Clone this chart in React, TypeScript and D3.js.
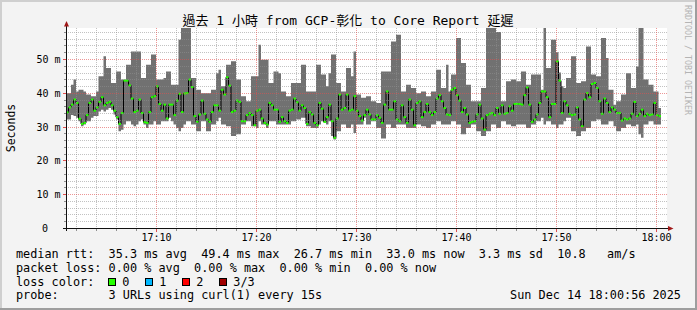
import React from 'react';
import * as d3 from 'd3';

// time: seconds after 17:00:00
const START_SEC = 60;
const STEP_SEC = 15;

const medianMs = [
  34.2,35.7,36.5,38.0,37.0,32.3,30.8,31.1,33.4,37.0,38.0,34.7,35.7,37.3,38.7,36.3,37.0,37.3,36.3,34.7,
  32.8,30.8,34.0,43.6,43.6,42.2,38.3,34.3,34.7,38.0,34.0,31.3,31.1,34.3,38.7,39.0,41.9,36.7,34.7,36.5,
  32.4,36.5,36.5,33.4,37.7,39.7,34.3,39.8,
  39.9,43.9,41.7,33.1,31.4,33.6,37.7,33.8,32.1,31.4,34.3,36.3,36.3,34.7,40.9,39.5,44.6,42.1,34.3,34.7,
  37.7,37.3,31.6,31.6,33.4,34.0,33.4,30.4,34.7,35.0,32.4,31.1,30.6,37.0,36.3,35.0,35.0,31.4,32.8,31.6,
  31.1,34.7,35.0,38.3,37.2,34.7,36.3,35.5,
  30.8,34.3,33.6,31.1,30.4,37.0,35.3,31.4,32.8,36.5,31.6,26.7,32.4,39.5,35.0,35.5,39.5,34.7,35.0,39.0,
  34.7,33.1,31.8,33.4,35.0,33.6,32.1,32.1,33.4,32.6,31.1,36.5,40.4,35.0,35.0,37.5,32.1,31.6,36.3,32.8,
  31.1,38.0,35.0,30.4,37.0,37.5,32.8,34.3,
  36.7,34.3,33.4,34.3,38.3,39.3,37.5,35.5,33.6,33.4,40.9,41.4,39.3,37.7,34.3,35.5,33.6,31.1,31.4,31.6,
  33.6,36.5,32.4,29.1,33.4,33.8,34.0,33.4,35.5,33.8,36.3,33.8,34.0,36.0,34.7,36.7,36.7,36.7,36.5,39.3,
  41.6,36.5,31.4,32.1,33.6,37.0,40.4,40.4,
  38.7,32.8,36.7,36.7,49.3,43.6,34.0,37.5,36.3,33.8,33.4,33.6,35.7,32.1,30.1,38.0,39.9,38.7,42.6,42.9,
  41.4,37.5,33.8,38.3,37.0,34.3,35.7,35.0,34.0,34.0,31.8,32.4,32.1,32.4,33.8,37.3,33.1,33.8,35.0,33.1,
  33.8,33.4,33.6,37.0,33.4,33.1,
];

const smokeMaxMs = [
  39.9,39.9,42.4,43.9,40.4,40.9,40.9,40.4,39.5,39.5,39.0,39.0,40.4,44.9,44.9,50.8,47.3,47.3,42.9,42.9,
  46.3,46.3,43.9,43.9,48.3,48.3,52.2,52.2,52.2,52.2,44.4,44.4,48.3,48.3,51.3,51.3,43.9,43.9,43.9,44.4,
  46.3,46.3,42.4,42.4,42.4,55.7,65,65,
  65,65,44.4,44.4,40.9,40.9,39.9,39.9,39.9,39.9,40.9,40.9,45.8,46.8,41.9,41.9,48.3,48.3,49.3,49.3,
  43.9,43.9,39.0,39.0,37.5,37.5,44.9,44.9,44.9,54.2,49.8,49.8,49.8,42.9,42.9,46.3,46.3,45.8,40.4,40.4,
  39.0,39.0,42.9,42.9,42.9,42.9,48.3,48.3,
  40.4,40.4,40.4,40.4,48.3,48.3,45.4,45.4,41.9,45.8,51.3,51.3,42.9,42.9,40.4,40.4,47.3,47.3,44.9,52.2,
  39.5,39.5,38.5,38.5,39.0,39.0,37.5,37.5,37.0,37.0,46.3,46.3,46.3,46.3,55.2,55.2,57.2,57.2,40.4,40.4,
  42.4,42.4,41.4,41.4,39.9,39.9,40.4,40.4,
  39.0,39.0,40.4,40.4,46.8,46.8,41.4,41.4,48.3,40.4,45.4,45.4,56.2,56.2,48.8,48.8,42.4,42.4,37.5,37.5,
  37.5,37.5,41.4,41.4,65,65,65,65,58.0,58.0,37.5,37.5,43.4,43.4,43.9,43.9,43.4,43.4,46.3,46.3,
  42.4,42.4,45.4,45.4,45.4,45.4,40.9,65,
  47.3,47.3,55.7,55.7,52.0,46.0,41.9,41.4,44.4,44.4,50.8,50.8,42.9,42.9,43.4,43.4,53.7,53.7,45.4,45.4,
  44.9,44.9,56.2,56.2,50.3,40.9,40.9,36.5,37.5,37.5,39.5,39.5,45.8,45.8,41.4,41.4,47.8,65,65,43.9,
  43.9,42.4,42.4,40.4,40.4,35.5,
];

const smokeMinMs = [
  32.1,32.1,33.4,33.1,32.6,31.6,30.1,30.6,31.6,31.6,32.6,33.1,33.1,34.5,35.0,34.5,35.0,35.5,35.0,33.6,
  32.1,28.6,29.1,30.6,31.6,31.6,30.6,30.1,30.6,31.6,32.1,30.6,29.6,30.6,30.6,31.6,30.6,30.6,31.6,31.6,
  31.6,32.6,31.6,30.6,29.6,28.6,29.6,30.6,
  31.6,31.6,30.6,30.6,28.6,28.6,31.6,31.6,28.6,28.6,30.6,30.6,31.6,32.6,30.6,30.6,30.1,30.1,27.2,27.2,
  27.7,27.7,30.6,30.6,31.6,31.6,30.1,30.1,29.6,31.6,30.6,30.6,29.6,31.6,31.6,31.6,30.6,30.6,30.6,30.6,
  30.6,30.6,31.6,31.6,32.1,32.1,32.6,32.6,
  30.1,30.1,29.6,29.6,29.6,30.6,31.6,31.6,30.6,31.6,27.2,26.2,28.6,28.6,30.6,30.6,29.6,29.6,30.6,28.1,
  30.6,30.6,30.6,32.6,30.6,30.6,31.6,31.6,29.6,29.6,26.5,26.5,30.6,30.6,29.6,29.6,30.6,30.6,30.6,30.6,
  29.6,29.6,29.6,29.6,30.6,30.6,30.1,30.1,
  29.6,29.6,30.6,30.6,31.6,31.6,30.6,30.6,30.6,30.6,31.6,31.6,30.6,30.6,27.7,27.7,29.6,29.6,30.6,30.6,
  28.6,28.6,27.2,27.2,28.6,28.6,30.6,30.6,29.6,29.6,31.6,31.6,30.6,30.6,30.1,30.1,30.6,30.6,30.6,30.6,
  29.6,29.6,30.6,30.6,31.6,31.6,32.6,30.6,
  31.6,31.6,30.6,30.6,29.6,30.6,30.6,31.6,32.6,32.6,28.6,28.6,27.2,27.2,28.6,28.6,29.6,29.6,31.6,31.6,
  32.1,32.1,30.6,30.6,30.6,31.6,31.6,30.1,28.6,28.6,29.6,29.6,30.6,30.6,30.1,30.1,30.6,27.7,26.7,30.6,
  30.6,31.6,31.6,30.6,30.6,30.6,
];

const yTickValues = [0, 10, 20, 30, 40, 50];
const yTickLabels = ['0', '10 m', '20 m', '30 m', '40 m', '50 m'];
const xTickMinutes = [10, 20, 30, 40, 50, 60];
const xTickLabels = ['17:10', '17:20', '17:30', '17:40', '17:50', '18:00'];
const lossColors = ['#26ff00', '#00b8ff', '#ff0000', '#a00000'];
const lossLabels = ['0', '1', '2', '3/3'];

const titleText = '過去 1 小時 from GCP-彰化 to Core Report 延遲';
const legendRtt = 'median rtt:  35.3 ms avg  49.4 ms max  26.7 ms min  33.0 ms now  3.3 ms sd  10.8   am/s';
const legendLoss = 'packet loss: 0.00 % avg  0.00 % max  0.00 % min  0.00 % now';
const legendLossColor = 'loss color:';
const legendProbe = 'probe:       3 URLs using curl(1) every 15s';
const stampText = 'Sun Dec 14 18:00:56 2025';
const yAxisTitle = 'Seconds';
const watermark = 'RRDTOOL / TOBI OETIKER';

const MONO = "'DejaVu Sans Mono', 'Noto Sans CJK TC', monospace";

export default function App() {
  const W = 697, H = 310;
  const left = 66, right = 666, top = 28, bottom = 228;
  const x = d3.scaleLinear().domain([START_SEC, START_SEC + 3600]).range([left, right]);
  const y = d3.scaleLinear().domain([0, 59.17]).range([bottom, top]);

  const rows = medianMs.map((m, i) => ({
    t: START_SEC + i * STEP_SEC,
    med: m,
    lo: Math.min(smokeMinMs[i], m),
    hi: Math.max(smokeMaxMs[i], m),
  }));
  const last = rows[rows.length - 1];
  const rowsExt = [...rows, { ...last, t: last.t + STEP_SEC }];

  const area = d3.area<any>().x(d => x(d.t)).y0(d => y(d.lo)).y1(d => y(d.hi)).curve(d3.curveStepAfter);
  const line = d3.line<any>().x(d => x(d.t)).y(d => y(d.med)).curve(d3.curveStepAfter);

  const px = (v: number) => Math.round(v) + 0.5;

  const hMinor = d3.range(2, 59, 2).filter(v => v % 10 !== 0);
  const hMajor = yTickValues.filter(v => v > 0);
  const vMinor = d3.range(2, 61, 2).filter(m => m % 10 !== 0).map(m => m * 60);
  const vMajor = xTickMinutes.map(m => m * 60);

  const minorCol = 'rgba(143,143,143,0.55)';
  const majorCol = 'rgba(224,80,80,0.6)';

  return (
    <svg width={W} height={H} viewBox={`0 0 ${W} ${H}`}
      style={{ position: 'absolute', left: 0, top: 0, display: 'block' }}
      fontFamily={MONO}>
      <defs>
        <clipPath id="plotclip">
          <rect x={left} y={top} width={right - left + 1} height={bottom - top} />
        </clipPath>
      </defs>
      <rect x={0} y={0} width={W} height={H} fill="#f3f3f3" />
      {/* 3D shade border */}
      <rect x={0} y={0} width={W} height={2} fill="#cfcfcf" />
      <rect x={0} y={0} width={2} height={H} fill="#cfcfcf" />
      <rect x={0} y={H - 2} width={W} height={2} fill="#9e9e9e" />
      <rect x={W - 2} y={0} width={2} height={H} fill="#9e9e9e" />

      {/* canvas */}
      <rect x={left} y={top} width={right - left + 1} height={bottom - top} fill="#ffffff" />

      {/* data */}
      <g clipPath="url(#plotclip)">
        <path d={area(rowsExt) || ''} fill="#717171" />
        <path d={line(rowsExt) || ''} fill="none" stroke="#000" strokeWidth={1} />
        {rows.map((r, i) => (
          <rect key={i} x={x(r.t)} y={y(r.med) - 1} width={x(r.t + STEP_SEC) - x(r.t)} height={2}
            fill={lossColors[0]} />
        ))}
      </g>

      {/* grid */}
      <g shapeRendering="crispEdges">
        {hMinor.map(v => (
          <line key={'hm' + v} x1={left} x2={right + 1} y1={px(y(v))} y2={px(y(v))}
            stroke={minorCol} strokeDasharray="1,1" />
        ))}
        {vMinor.map(t => (
          <line key={'vm' + t} x1={px(x(t))} x2={px(x(t))} y1={top} y2={bottom}
            stroke={minorCol} strokeDasharray="1,1" />
        ))}
        {hMajor.map(v => (
          <line key={'hM' + v} x1={left} x2={right + 1} y1={px(y(v))} y2={px(y(v))}
            stroke={majorCol} strokeDasharray="1,1" />
        ))}
        {vMajor.map(t => (
          <line key={'vM' + t} x1={px(x(t))} x2={px(x(t))} y1={top} y2={bottom}
            stroke={majorCol} strokeDasharray="1,1" />
        ))}
        {/* ticks */}
        {hMinor.map(v => (
          <line key={'ht' + v} x1={left - 2} x2={left} y1={px(y(v))} y2={px(y(v))} stroke="#8f8f8f" />
        ))}
        {hMajor.map(v => (
          <line key={'hT' + v} x1={left - 3} x2={left} y1={px(y(v))} y2={px(y(v))} stroke="#e05050" />
        ))}
        {vMinor.map(t => (
          <line key={'vt' + t} x1={px(x(t))} x2={px(x(t))} y1={bottom + 1} y2={bottom + 3} stroke="#8f8f8f" />
        ))}
        {vMajor.map(t => (
          <line key={'vT' + t} x1={px(x(t))} x2={px(x(t))} y1={bottom + 1} y2={bottom + 4} stroke="#e05050" />
        ))}
        {/* axes */}
        <line x1={left - 3} x2={right + 3} y1={bottom + 0.5} y2={bottom + 0.5} stroke="#101010" />
        <line x1={left + 0.5} x2={left + 0.5} y1={top - 3} y2={bottom + 3} stroke="#101010" />
      </g>
      {/* arrows */}
      <path d={`M${left - 2},${top - 1.5} L${left + 0.5},${top - 7} L${left + 3},${top - 1.5} Z`} fill="#a01818" />
      <path d={`M${right + 2},${bottom - 2} L${right + 7.5},${bottom + 0.5} L${right + 2},${bottom + 3} Z`} fill="#a01818" />

      {/* y labels */}
      {yTickValues.map((v, i) => (
        <text key={'yl' + v} x={v === 0 ? 48 : 60.5} y={px(y(v)) + 3.5} fontSize={10} textAnchor="end" fill="#000">
          {yTickLabels[i]}
        </text>
      ))}
      {/* x labels */}
      {xTickMinutes.map((m, i) => (
        <text key={'xl' + m} x={px(x(m * 60))} y={241} fontSize={10} textAnchor="middle" fill="#000">
          {xTickLabels[i]}
        </text>
      ))}

      {/* y axis title */}
      <text transform={`translate(15,128) rotate(-90)`} fontSize={11.5} textAnchor="middle" fill="#000">
        {yAxisTitle}
      </text>

      {/* title */}
      <text x={348} y={25} fontSize={13} textAnchor="middle" fill="#000">{titleText}</text>

      {/* watermark */}
      <text transform={`translate(684.5,5) rotate(90)`} fontSize={8.3} fill="#b4b4b4">{watermark}</text>

      {/* legend */}
      <g fontSize={11.83} fill="#000" style={{ whiteSpace: 'pre' }}>
        <text x={16} y={258} xmlSpace="preserve">{legendRtt}</text>
        <text x={16} y={272} xmlSpace="preserve">{legendLoss}</text>
        <text x={16} y={285.5} xmlSpace="preserve">{legendLossColor}</text>
        {lossColors.map((c, i) => (
          <g key={'lc' + i}>
            <rect x={108.5 + 37 * i} y={278.5} width={7} height={7} fill={c} stroke="#000" strokeWidth={1} />
            <text x={122.3 + 37 * i} y={285.5}>{lossLabels[i]}</text>
          </g>
        ))}
        <text x={16} y={299} xmlSpace="preserve">{legendProbe}</text>
        <text x={681} y={299} textAnchor="end">{stampText}</text>
      </g>
    </svg>
  );
}
